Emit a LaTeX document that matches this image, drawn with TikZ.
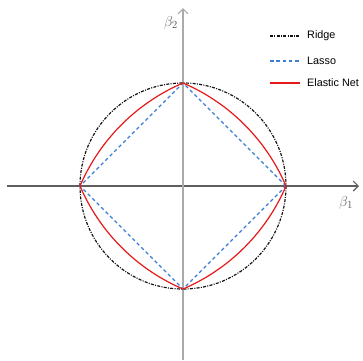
\documentclass[tikz,border=0pt]{standalone}
\usepackage{fontspec}
\setsansfont{Liberation Sans}
\usetikzlibrary{arrows.meta}
\definecolor{ridgec}{RGB}{20,20,20}
\definecolor{lassoc}{RGB}{60,125,215}
\definecolor{enetc}{RGB}{230,25,25}
\definecolor{axh}{RGB}{95,95,95}
\definecolor{axv}{RGB}{170,170,170}
\definecolor{labc}{RGB}{95,95,95}
\tikzset{
  ridgeline/.style={draw=ridgec, line width=1.2pt, dash pattern=on 3pt off 1.3pt on 1pt off 1.3pt},
  lassoline/.style={draw=lassoc, line width=1.2pt, dash pattern=on 3.5pt off 2.8pt},
  enetline/.style={draw=enetc, line width=1.2pt},
  axisarrow/.style={line width=1.1pt, -{Straight Barb[length=5pt,width=10pt,line width=1.1pt]}},
  legtext/.style={font=\sffamily\fontsize{10.8}{12}\selectfont, anchor=west, inner sep=0pt, text=black},
  axlabel/.style={text=labc, font=\fontsize{15}{16}\selectfont, inner sep=0pt}
}
\begin{document}
\begin{tikzpicture}[x=1pt,y=-1pt]
\useasboundingbox (0,0) rectangle (363,360);
\coordinate (O) at (183,186);
\coordinate (L) at (7,186);
\coordinate (R) at (359,186);
\coordinate (B) at (183,360);
\coordinate (T) at (183,8);
\draw[axh, axisarrow] (L) -- (R);
\draw[axv, axisarrow] (B) -- (T);
\node[axlabel] (b1) at (346,203) {$\beta_1$};
\node[axlabel] (b2) at (171,23) {$\beta_2$};
% Ridge circle
\draw[ridgeline] (O) circle[radius=103];
% Lasso diamond
\coordinate (P1) at (286,186);
\coordinate (P2) at (183,83);
\coordinate (P3) at (80,186);
\coordinate (P4) at (183,289);
\draw[lassoline] (P1) -- (P2) -- (P3) -- (P4) -- cycle;
% Elastic net (alpha = 0.6)
\draw[enetline, shift={(O)}] plot[domain=0:360, samples=361]
  (\x:{103*(-0.6*(abs(cos(\x))+abs(sin(\x)))+sqrt(0.36*(abs(cos(\x))+abs(sin(\x)))^2+1.6))/0.8}) -- cycle;
% Legend
\coordinate (l1a) at (270,36); \coordinate (l1b) at (300,36);
\coordinate (l2a) at (270,61); \coordinate (l2b) at (300,61);
\coordinate (l3a) at (270,83); \coordinate (l3b) at (300,83);
\draw[ridgeline] (l1a) -- (l1b);
\draw[lassoline] (l2a) -- (l2b);
\draw[enetline] (l3a) -- (l3b);
\node[legtext] (t1) at (307,36) {Ridge};
\node[legtext] (t2) at (307,61) {Lasso};
\node[legtext] (t3) at (307,83) {Elastic Net};
\end{tikzpicture}
\end{document}
